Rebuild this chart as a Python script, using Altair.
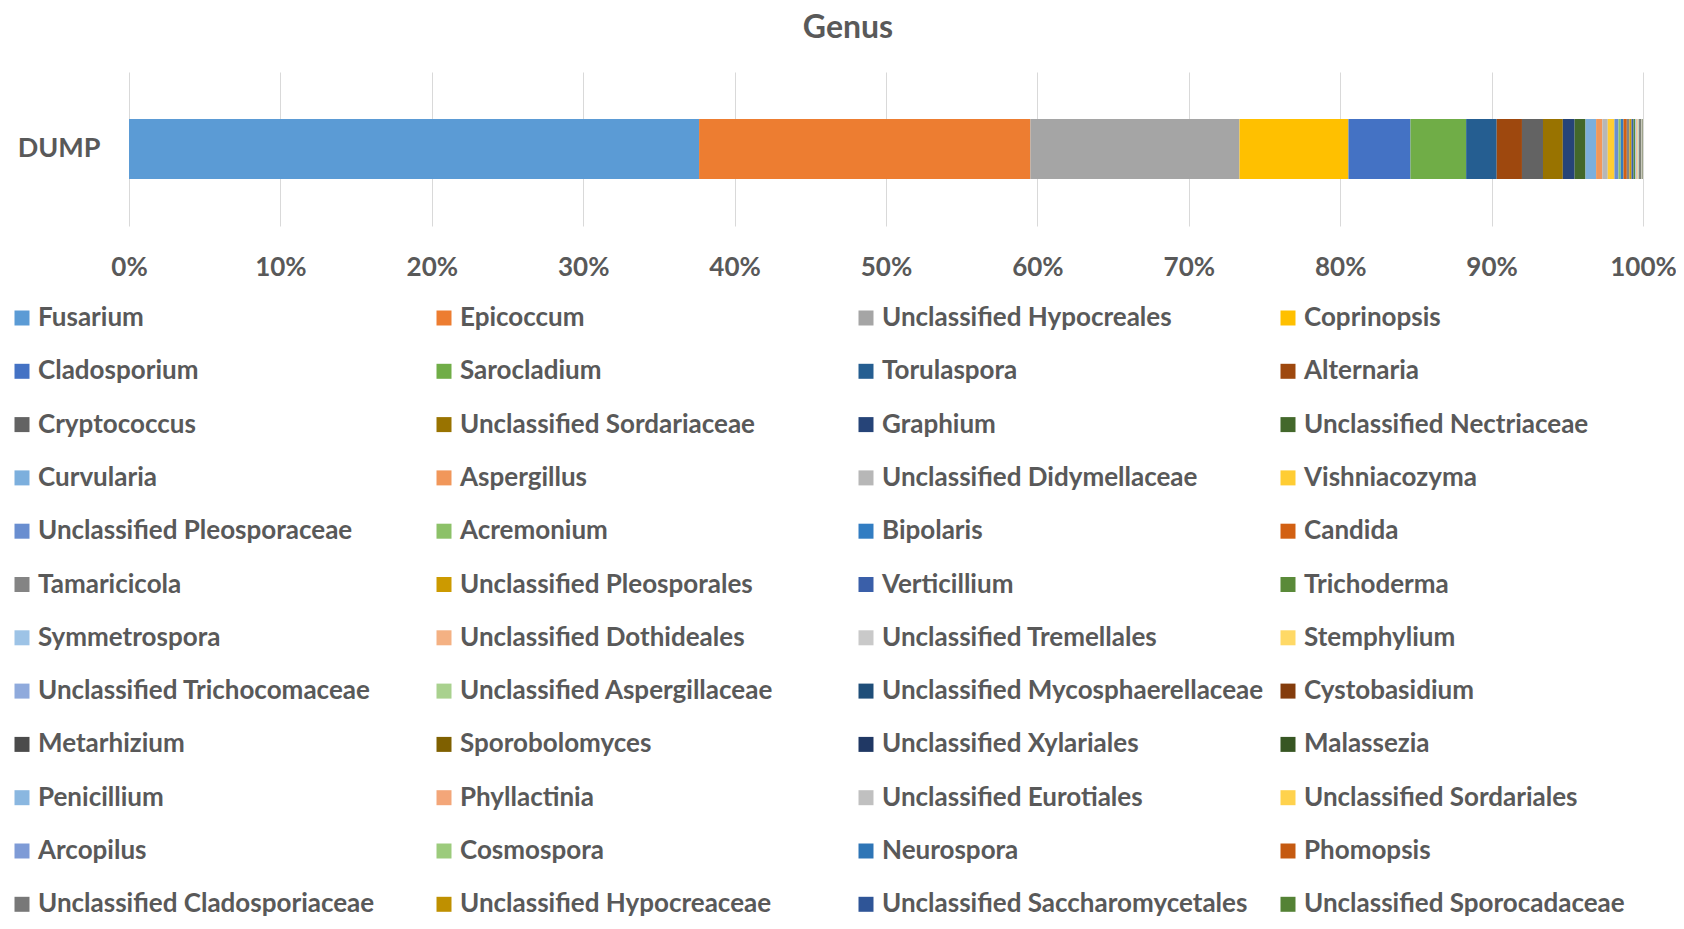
import altair as alt
import pandas as pd

sample = "DUMP"

genera = [
    "Fusarium", "Epicoccum", "Unclassified Hypocreales", "Coprinopsis",
    "Cladosporium", "Sarocladium", "Torulaspora", "Alternaria",
    "Cryptococcus", "Unclassified Sordariaceae", "Graphium", "Unclassified Nectriaceae",
    "Curvularia", "Aspergillus", "Unclassified Didymellaceae", "Vishniacozyma",
    "Unclassified Pleosporaceae", "Acremonium", "Bipolaris", "Candida",
    "Tamaricicola", "Unclassified Pleosporales", "Verticillium", "Trichoderma",
    "Symmetrospora", "Unclassified Dothideales", "Unclassified Tremellales", "Stemphylium",
    "Unclassified Trichocomaceae", "Unclassified Aspergillaceae", "Unclassified Mycosphaerellaceae", "Cystobasidium",
    "Metarhizium", "Sporobolomyces", "Unclassified Xylariales", "Malassezia",
    "Penicillium", "Phyllactinia", "Unclassified Eurotiales", "Unclassified Sordariales",
    "Arcopilus", "Cosmospora", "Neurospora", "Phomopsis",
    "Unclassified Cladosporiaceae", "Unclassified Hypocreaceae", "Unclassified Saccharomycetales", "Unclassified Sporocadaceae",
]

percent = [
    37.68, 21.90, 13.82, 7.20,
    4.10, 3.68, 2.02, 1.67,
    1.39, 1.31, 0.78, 0.72,
    0.70, 0.41, 0.36, 0.44,
    0.27, 0.15, 0.18, 0.22,
    0.17, 0.14, 0.13, 0.12,
    0.06, 0.05, 0.05, 0.04,
    0.03, 0.03, 0.03, 0.02,
    0.02, 0.02, 0.02, 0.015,
    0.015, 0.01, 0.01, 0.01,
    0.01, 0.01, 0.01, 0.01,
    0.01, 0.01, 0.01, 0.01,
]

colors = [
    "#5B9BD5", "#ED7D31", "#A5A5A5", "#FFC000",
    "#4472C4", "#70AD47", "#255E91", "#9E480E",
    "#636363", "#997300", "#264478", "#43682B",
    "#7CAFDD", "#F1975A", "#B7B7B7", "#FFCD33",
    "#698ED0", "#8CC168", "#327DC2", "#D26012",
    "#848484", "#CC9A00", "#3A5FA9", "#5A8A39",
    "#9DC3E6", "#F4B183", "#C9C9C9", "#FFD966",
    "#8FAADC", "#A9D18E", "#1F4E79", "#843C0C",
    "#4B4B4B", "#7F6000", "#203864", "#375623",
    "#8AB7E0", "#F3A679", "#C0C0C0", "#FFD24D",
    "#7E9BD6", "#9CCB7C", "#2E75B6", "#C55A11",
    "#787878", "#BF9000", "#2F5597", "#548235",
]

x_ticks = [0, 0.1, 0.2, 0.3, 0.4, 0.5, 0.6, 0.7, 0.8, 0.9, 1.0]

df = pd.DataFrame({
    "sample": [sample] * len(genera),
    "genus": genera,
    "value": percent,
    "idx": list(range(len(genera))),
})

FONT = "Lato"
TXT = "#595959"

chart = alt.Chart(df).mark_bar(size=60, strokeWidth=0).encode(
    x=alt.X(
        "value:Q",
        stack="normalize",
        scale=alt.Scale(domain=[0, 1], nice=False),
        axis=alt.Axis(
            values=x_ticks, format=".0%", title=None, domain=False, ticks=False,
            grid=True, gridColor="#D9D9D9", gridWidth=1,
            labelFont=FONT, labelFontSize=26, labelFontWeight="bold", labelColor=TXT,
            labelPadding=28, labelFlush=False, labelOverlap=False,
        ),
    ),
    y=alt.Y(
        "sample:N",
        axis=alt.Axis(
            title=None, domain=False, ticks=False, grid=False,
            labelFont=FONT, labelFontSize=27, labelFontWeight="bold", labelColor=TXT,
            labelPadding=29,
        ),
    ),
    color=alt.Color(
        "genus:N",
        scale=alt.Scale(domain=genera, range=colors),
        legend=alt.Legend(
            title=None, orient="none", legendX=-120, legendY=233,
            direction="horizontal", columns=4, gridAlign="all",
            columnPadding=11, rowPadding=27.3, symbolLimit=0,
            symbolType="square", symbolSize=225, symbolStrokeWidth=0,
            labelFont=FONT, labelFontSize=26, labelFontWeight="bold", labelColor=TXT,
            labelOffset=3, labelLimit=600, padding=0,
        ),
    ),
    order=alt.Order("idx:Q", sort="ascending"),
).properties(
    width=1514,
    height=154,
    title=alt.Title(
        "Genus", font=FONT, fontSize=32, fontWeight="bold", color=TXT,
        anchor="middle", dx=-38, offset=27,
    ),
    autosize=alt.AutoSizeParams(type="none"),
    padding={"left": 121, "top": 64, "right": 33, "bottom": 695},
).configure_view(stroke=None)

chart.save("out.html", embed_options={"renderer": "svg", "actions": False})
